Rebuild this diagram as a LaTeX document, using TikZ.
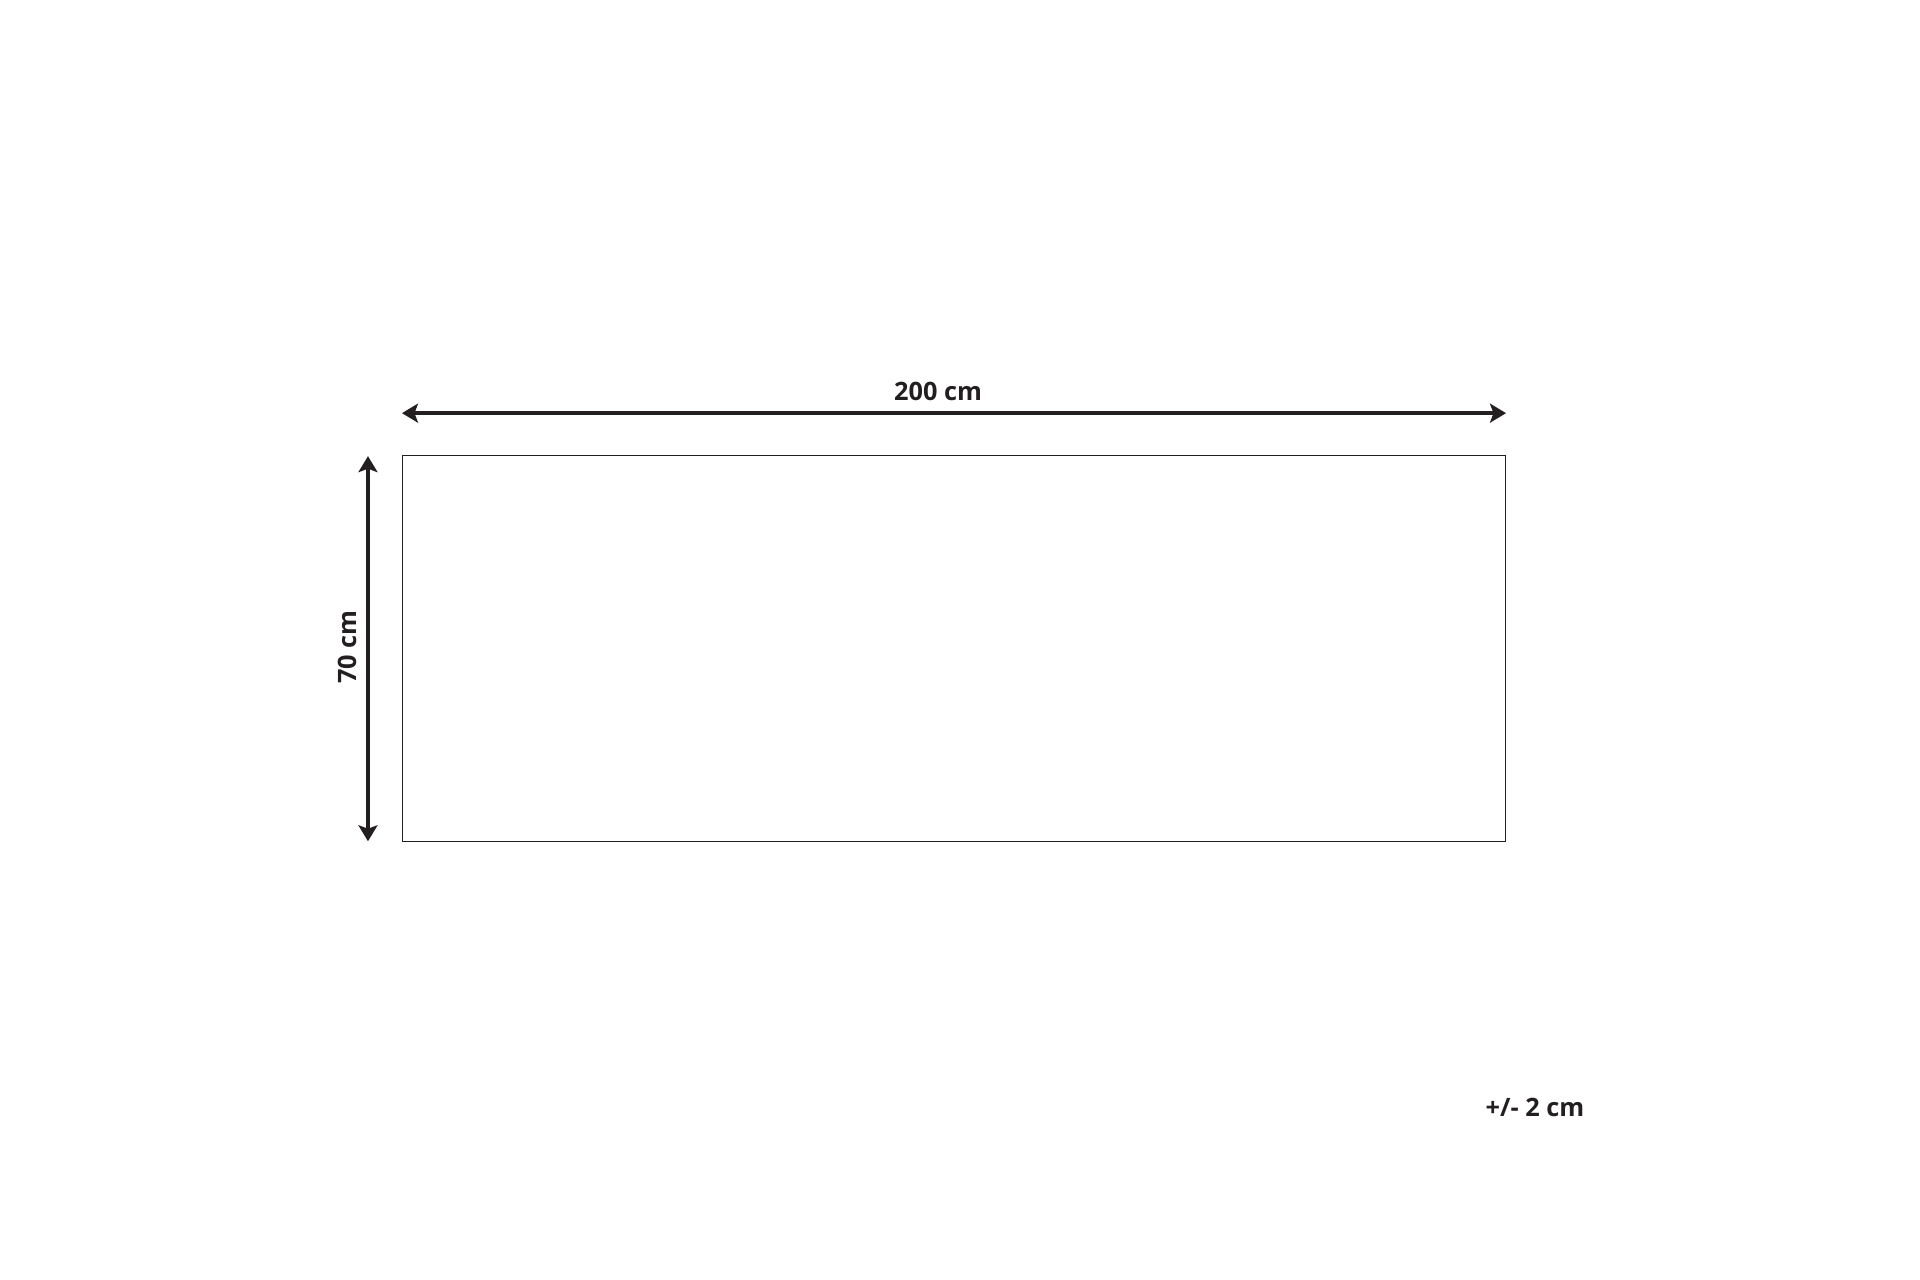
\documentclass[tikz,border=0pt]{standalone}
\usepackage{fontspec}
\setmainfont{Open Sans}
\usetikzlibrary{
		calc,
		positioning,
		arrows.meta
	}
\tikzset{
		>={Stealth[length=1.6mm, width=1.9mm, inset=0.35mm]}
	}
\definecolor{inkgray}{HTML}{231F20}

\begin{document}
\begin{tikzpicture}[x=0.01cm, y=0.01cm,
		rugbox/.style={draw, line width=0.4pt, inkgray, inner sep=0pt, minimum width=11.02cm, minimum height=3.86cm},
		dimline/.style={line width=1.1pt, inkgray, <->},
		dimtext/.style={inkgray, font=\fontsize{7.2}{8}\selectfont\bfseries, inner sep=0pt}
	]
		\useasboundingbox (0,0) rectangle (1920,1280);
		\node[rugbox] (rug) at (954,631.5) {};
		% width arrow above the rug
		\coordinate (wl) at ($(rug.north west) + (0,41.5)$);
		\coordinate (wr) at ($(rug.north east) + (0,41.5)$);
		\draw[dimline] (wl) -- (wr);
		\node[dimtext] (wlabel) at (938,889) {200 cm};
		% height arrow left of the rug
		\coordinate (ht) at ($(rug.north west) + (-34,-1.5)$);
		\coordinate (hb) at ($(rug.south west) + (-34,1)$);
		\draw[dimline] (ht) -- (hb);
		\node[dimtext, rotate=90] (hlabel) at (347,633) {70 cm};
		\node[dimtext] (tol) at (1535,172.5) {+/- 2 cm};
	\end{tikzpicture}
\end{document}
